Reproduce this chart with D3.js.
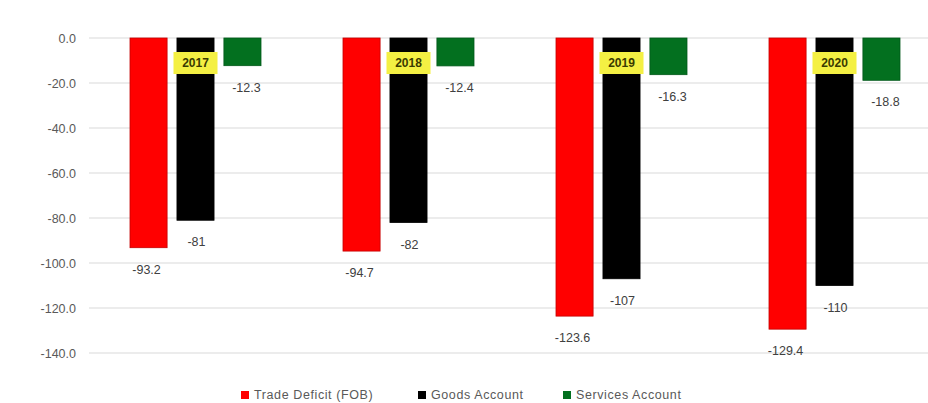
<!DOCTYPE html>
<html>
<head>
<meta charset="utf-8">
<script src="https://cdn.jsdelivr.net/npm/d3@7"></script>
<style>
  html, body { margin: 0; padding: 0; background: #ffffff; }
  svg { display: block; font-family: "Liberation Sans", "Noto Sans", Arial, sans-serif; }
</style>
</head>
<body>
<svg id="chart" width="928" height="403"></svg>
<script>
// Years shown on each group, and the three account balances (billions)
const years = ["2017", "2018", "2019", "2020"];
const seriesNames = ["Trade Deficit (FOB)", "Goods Account", "Services Account"];
const tradeDeficit = [-93.2, -94.7, -123.6, -129.4];
const goodsAccount = [-81, -82, -107, -110];
const servicesAccount = [-12.3, -12.4, -16.3, -18.8];
const yTicks = [0, -20, -40, -60, -80, -100, -120, -140];
const seriesColors = ["#ff0000", "#000000", "#03701f"];
const seriesStrokes = ["#c40000", "#000000", "#02591a"];

const seriesValues = [tradeDeficit, goodsAccount, servicesAccount];
const rows = years.map((yr, i) => ({
  year: yr,
  values: seriesNames.map((s, k) => ({ series: s, k, value: seriesValues[k][i] }))
}));

const svg = d3.select("#chart");
const W = 928;

const y = d3.scaleLinear().domain([0, -140]).range([38, 353]);
const x0 = d3.scaleBand().domain(years).range([89, 941]).paddingInner(0).paddingOuter(0);
const x1 = d3.scaleBand().domain(seriesNames).range([41, 172]).paddingInner(0.21).paddingOuter(0);

// Hyphen-minus number formatting, one decimal
const fmt1 = v => v.toFixed(1);

// Gridlines
svg.append("g")
  .selectAll("line")
  .data(yTicks)
  .join("line")
  .attr("x1", 89).attr("x2", W)
  .attr("y1", d => y(d)).attr("y2", d => y(d))
  .attr("stroke", "#d9d9d9").attr("stroke-width", 1);

// Y axis labels
const yAxis = d3.axisLeft(y).tickValues(yTicks).tickFormat(fmt1).tickSize(0).tickPadding(0);
const gy = svg.append("g").attr("transform", "translate(76,0)").call(yAxis);
gy.select(".domain").remove();
gy.selectAll("text")
  .attr("fill", "#595959")
  .style("font-size", "12.5px")
  .style("font-family", "\"Liberation Sans\", \"Noto Sans\", Arial, sans-serif");

// Bars
const groups = svg.append("g")
  .selectAll("g")
  .data(rows)
  .join("g")
  .attr("transform", d => `translate(${x0(d.year)},0)`);

groups.selectAll("rect")
  .data(d => d.values)
  .join("rect")
  .attr("x", d => x1(d.series))
  .attr("width", x1.bandwidth())
  .attr("y", d => y(0))
  .attr("height", d => y(d.value) - y(0))
  .attr("fill", d => seriesColors[d.k])
  .attr("stroke", d => seriesStrokes[d.k])
  .attr("stroke-width", 0.8);

// Value labels below each bar end
groups.selectAll("text.val")
  .data(d => d.values)
  .join("text")
  .attr("class", "val")
  .attr("x", d => x1(d.series) + x1.bandwidth() / 2 + (d.k === 2 ? 4 : d.k === 1 ? 1 : -2))
  .attr("y", d => y(d.value) + 26)
  .attr("text-anchor", "middle")
  .attr("fill", "#404040")
  .style("font-size", "12.5px")
  .text(d => String(d.value));

// Year tags on the goods bar
const tag = groups.append("g")
  .attr("transform", d => `translate(${x1(seriesNames[1]) + x1.bandwidth() / 2},${y(0) + 25})`);
tag.append("rect")
  .attr("x", -22).attr("y", -11).attr("width", 44).attr("height", 22)
  .attr("fill", "#f4f043");
tag.append("text")
  .attr("text-anchor", "middle")
  .attr("dy", "0.35em")
  .attr("fill", "#3a3a00")
  .style("font-size", "12px")
  .style("font-weight", "bold")
  .text(d => d.year);

// Legend
const legendX = [241, 418, 563];
const legend = svg.append("g")
  .selectAll("g")
  .data(seriesNames)
  .join("g")
  .attr("transform", (d, i) => `translate(${legendX[i]},395)`);
legend.append("rect")
  .attr("x", 0).attr("y", -4).attr("width", 8).attr("height", 8)
  .attr("fill", (d, i) => seriesColors[i]);
legend.append("text")
  .attr("x", 13).attr("dy", "0.35em")
  .attr("fill", "#595959")
  .style("font-size", "12.5px")
  .style("letter-spacing", "0.6px")
  .text(d => d);
</script>
</body>
</html>
